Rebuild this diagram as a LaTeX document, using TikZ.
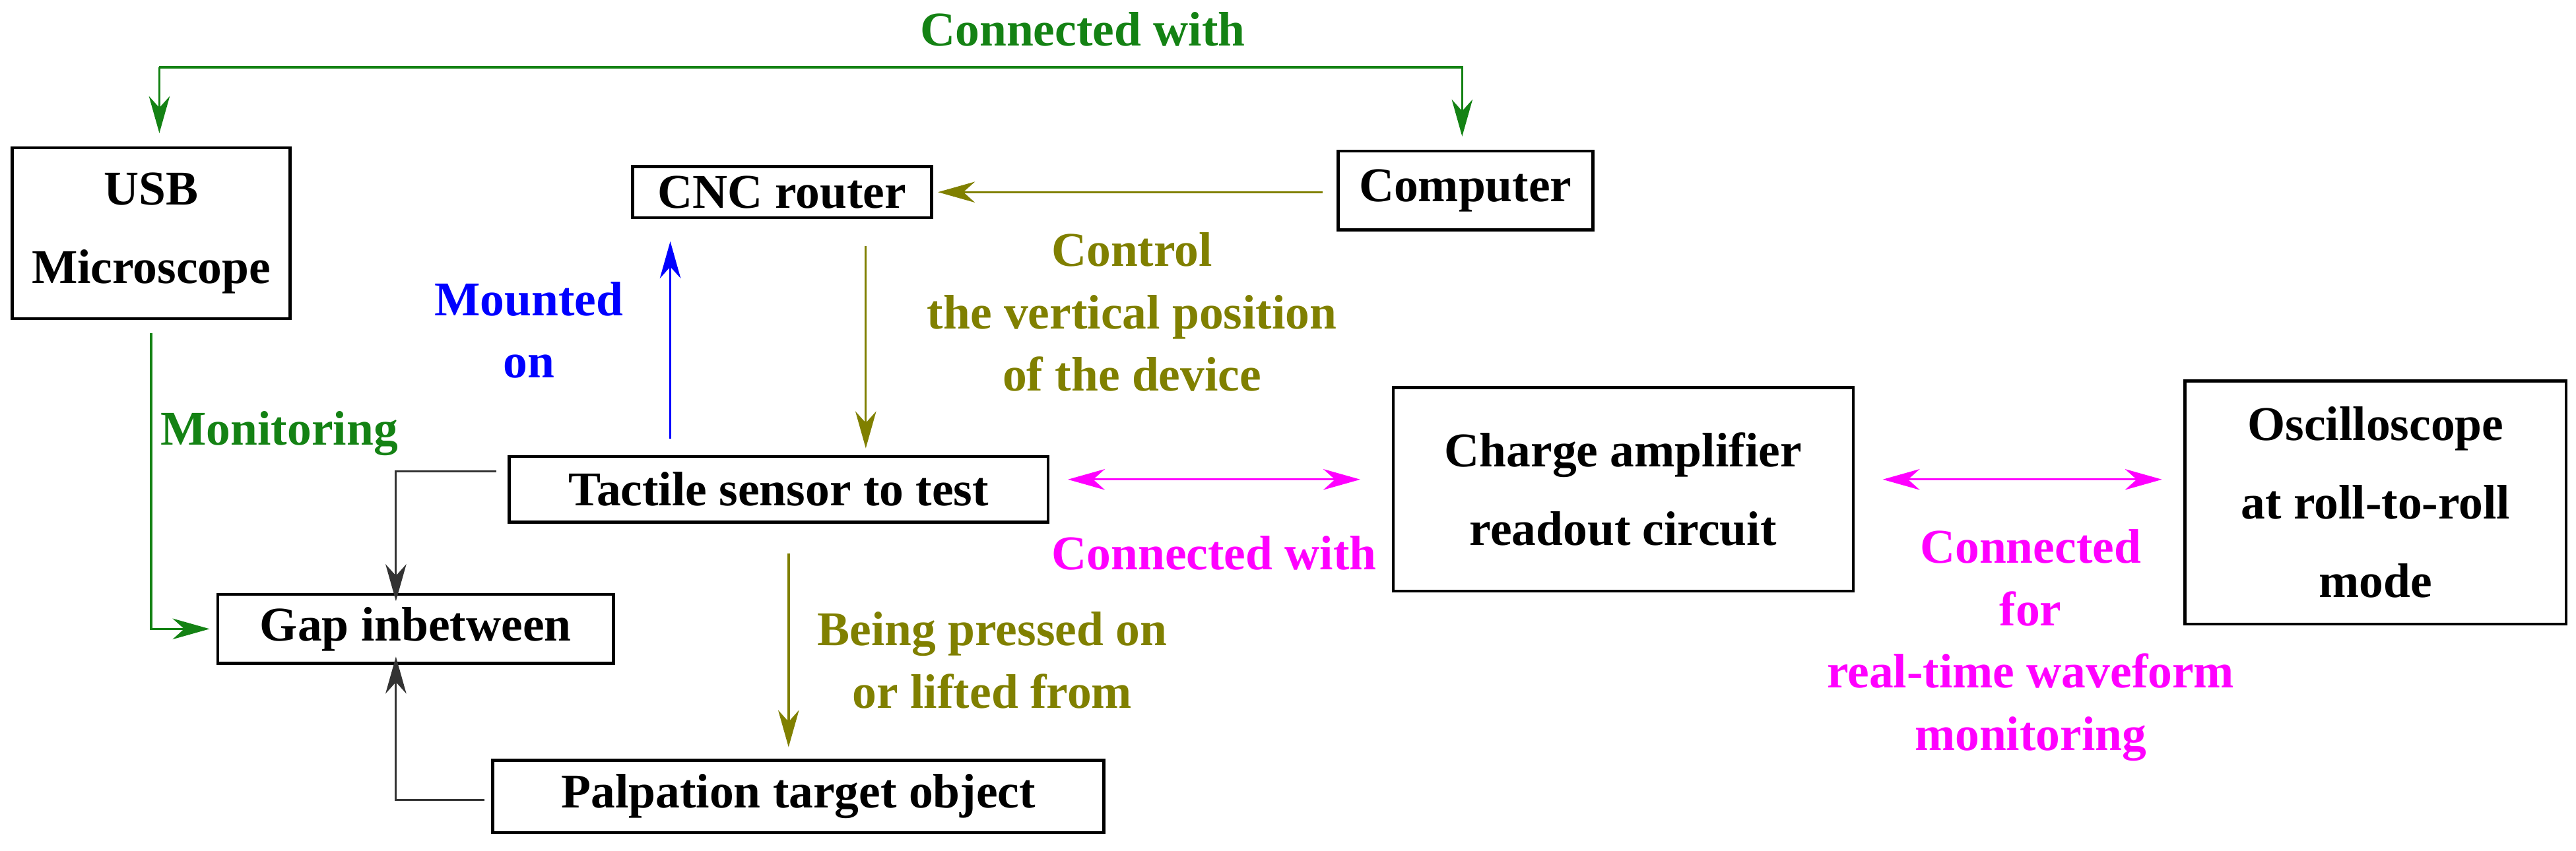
\documentclass[tikz,border=0pt]{standalone}
\usepackage{fontspec}
\setmainfont{Liberation Serif}
\usetikzlibrary{arrows.meta}
\definecolor{dgreen}{RGB}{20,130,20}
\definecolor{olive}{RGB}{128,128,0}
\definecolor{mag}{RGB}{255,0,255}
\begin{document}
\begin{tikzpicture}[x=0.025cm,y=-0.025cm,
  box/.style={draw,line width=1.3pt,inner sep=0pt,align=center,font=\fontsize{21}{34}\selectfont\bfseries},
  lab/.style={align=center,font=\fontsize{21}{27}\selectfont\bfseries},
  arr/.style={line width=0.9pt,-{Stealth[length=16pt,width=9pt,inset=5pt]}},
  darr/.style={line width=0.9pt,{Stealth[length=16pt,width=9pt,inset=5pt]}-{Stealth[length=16pt,width=9pt,inset=5pt]}}]
\useasboundingbox (0,0) rectangle (1568,518);
\node[box,minimum width=169*0.025cm,minimum height=104*0.025cm] (usb) at (92,142) {USB\\Microscope};
\node[box,minimum width=182*0.025cm,minimum height=31*0.025cm] (cnc) at (476,117) {CNC router};
\node[box,minimum width=155*0.025cm,minimum height=48*0.025cm] (comp) at (892,116) {Computer};
\node[box,minimum width=328*0.025cm,minimum height=40*0.025cm] (tac) at (474,298) {Tactile sensor to test};
\node[box,minimum width=241*0.025cm,minimum height=42*0.025cm] (gap) at (253,383) {Gap inbetween};
\node[box,minimum width=372*0.025cm,minimum height=44*0.025cm] (pal) at (486,485) {Palpation target object};
\node[box,minimum width=280*0.025cm,minimum height=124*0.025cm] (amp) at (988,298) {Charge amplifier\\readout circuit};
\node[box,minimum width=232*0.025cm,minimum height=148*0.025cm] (osc) at (1446,306) {Oscilloscope\\at roll-to-roll\\mode};
\coordinate (tl) at (97,41); \coordinate (tr) at (890,41);
\draw[arr,dgreen] (tr|-comp.north) ++(0,-8) coordinate (ce) (tl) -- (tr) -- (ce);
\draw[arr,dgreen] (tl) -- ([yshift=8*0.025cm]tl|-usb.north);
\node[lab,dgreen] (lcw) at (659,18) {Connected with};
\coordinate (cw) at (805,117);
\draw[arr,olive] (cw) -- ([xshift=3*0.025cm]cnc.east);
\node[lab,olive] (lctl) at (689,190) {Control\\the vertical position\\of the device};
\coordinate (c1) at (527,150); \coordinate (c2) at (527,273);
\draw[arr,olive] (c1) -- (c2);
\coordinate (b1) at (408,267); \coordinate (b2) at (408,147);
\draw[arr,blue] (b1) -- (b2);
\node[lab,blue] (lmo) at (322,201) {Mounted\\on};
\coordinate (g1) at (92,203); \coordinate (g2) at (92,383);
\draw[arr,dgreen] (g1) -- (g2) -- ([xshift=-4*0.025cm]gap.west);
\node[lab,dgreen] (lmon) at (170,264) {Monitoring};
\coordinate (k1) at (302,287); \coordinate (k2) at (241,287);
\draw[arr,black!80] (k1) -- (k2) -- ([yshift=-5*0.025cm]k2|-gap.north);
\coordinate (p1) at (295,487); \coordinate (p2) at (241,487);
\draw[arr,black!80] (p1) -- (p2) -- ([yshift=5*0.025cm]p2|-gap.south);
\coordinate (o1) at (480,337); \coordinate (o2) at (480,455);
\draw[arr,olive,line width=1.2pt] (o1) -- (o2);
\node[lab,olive] (lpr) at (604,402) {Being pressed on\\or lifted from};
\coordinate (m1) at (650,292); \coordinate (m2) at (828,292);
\draw[darr,mag] (m1) -- (m2);
\node[lab,mag] (lcw2) at (739,337) {Connected with};
\coordinate (n1) at (1146,292); \coordinate (n2) at (1316,292);
\draw[darr,mag] (n1) -- (n2);
\node[lab,mag,font=\fontsize{21}{27}\selectfont\bfseries] (lcf) at (1236,393) {Connected\\for\\real-time waveform\\monitoring};
\end{tikzpicture}
\end{document}
